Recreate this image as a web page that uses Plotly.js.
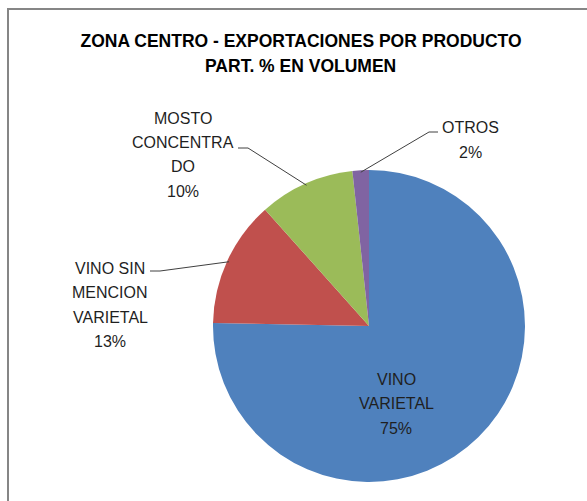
<!DOCTYPE html>
<html>
<head>
<meta charset="utf-8">
<script src="https://cdn.plot.ly/plotly-3.0.1.min.js"></script>
<style>html,body{margin:0;padding:0;background:#fff;}#chart{width:587px;height:501px;}</style>
</head>
<body>
<div id="chart"></div>
<script>
// ---- data ----
const categories = ['VINO VARIETAL', 'VINO SIN MENCION VARIETAL', 'MOSTO CONCENTRADO', 'OTROS'];
const labelLines = [['VINO', 'VARIETAL'], ['VINO SIN', 'MENCION', 'VARIETAL'], ['MOSTO', 'CONCENTRA', 'DO'], ['OTROS']];
const values = [75.3, 13.1, 9.9, 1.7];
const colors = ['#4F81BD', '#C0504D', '#9BBB59', '#8064A2'];

// ---- geometry (pixels) ----
const W = 587, H = 501;
const CX = 369, CY = 326, R = 156;
const LINE_H = 24.5;
const px = x => x / W;
const py = y => 1 - y / H;

const total = values.reduce((a, b) => a + b, 0);
const pcts = values.map(v => Math.round(v / total * 100));

// label placement: center x, first-line y (pixels); leader elbows
const labelPos = [[396, 379], [110, 268], [183, 118], [470, 128]];
const elbows = [null, [[150, 271], [160, 271]], [[238, 148], [248, 148]], [[438, 132], [429, 132]]];

// mid-angle of each slice (clockwise from 12 o'clock)
let acc = 0;
const midPts = values.map(v => {
  const a0 = acc / total * 2 * Math.PI;
  acc += v;
  const a1 = acc / total * 2 * Math.PI;
  const m = (a0 + a1) / 2;
  return [CX + (R - 2) * Math.sin(m), CY - (R - 2) * Math.cos(m)];
});

const annotations = [];
const shapes = [];
categories.forEach((c, i) => {
  const lines = labelLines[i].concat([pcts[i] + '%']);
  lines.forEach((t, k) => {
    annotations.push({
      xref: 'paper', yref: 'paper',
      x: px(labelPos[i][0]), y: py(labelPos[i][1] + k * LINE_H),
      xanchor: 'center', yanchor: 'middle',
      text: t,
      showarrow: false,
      font: {family: 'Liberation Sans, Arial, sans-serif', size: 16, color: '#1f1f1f'}
    });
  });
  if (elbows[i]) {
    const e = elbows[i];
    const m = midPts[i];
    shapes.push({
      type: 'path', xref: 'paper', yref: 'paper',
      path: `M ${px(e[0][0])} ${py(e[0][1])} L ${px(e[1][0])} ${py(e[1][1])} L ${px(m[0])} ${py(m[1])}`,
      line: {color: '#404040', width: 1}
    });
  }
});

// second title line
annotations.push({
  xref: 'paper', yref: 'paper', x: px(300), y: py(66),
  xanchor: 'center', yanchor: 'middle',
  text: '<b>PART. % EN VOLUMEN</b>', showarrow: false,
  font: {family: 'Liberation Sans, Arial, sans-serif', size: 17.5, color: '#000000'}
});

// chart border (cropped on right and bottom)
shapes.push({
  type: 'rect', xref: 'paper', yref: 'paper',
  x0: px(8), x1: 1.1, y0: -0.1, y1: py(9),
  line: {color: '#868686', width: 2}, fillcolor: 'rgba(0,0,0,0)', layer: 'above'
});

const trace = {
  type: 'pie',
  labels: categories,
  values: values,
  sort: false,
  direction: 'clockwise',
  rotation: 0,
  marker: {colors: colors, line: {width: 0}},
  textinfo: 'none',
  hoverinfo: 'label+percent',
  showlegend: false,
  domain: {x: [px(CX - R), px(CX + R)], y: [py(CY + R), py(CY - R)]}
};

const layout = {
  width: W, height: H,
  margin: {l: 0, r: 0, t: 0, b: 0},
  paper_bgcolor: '#ffffff',
  showlegend: false,
  title: {
    text: '<b>ZONA CENTRO - EXPORTACIONES POR PRODUCTO</b>',
    x: px(301), xanchor: 'center',
    y: py(41), yanchor: 'middle',
    font: {family: 'Liberation Sans, Arial, sans-serif', size: 17.5, color: '#000000'}
  },
  annotations: annotations,
  shapes: shapes
};

Plotly.newPlot('chart', [trace], layout, {displayModeBar: false, staticPlot: true});
</script>
</body>
</html>
